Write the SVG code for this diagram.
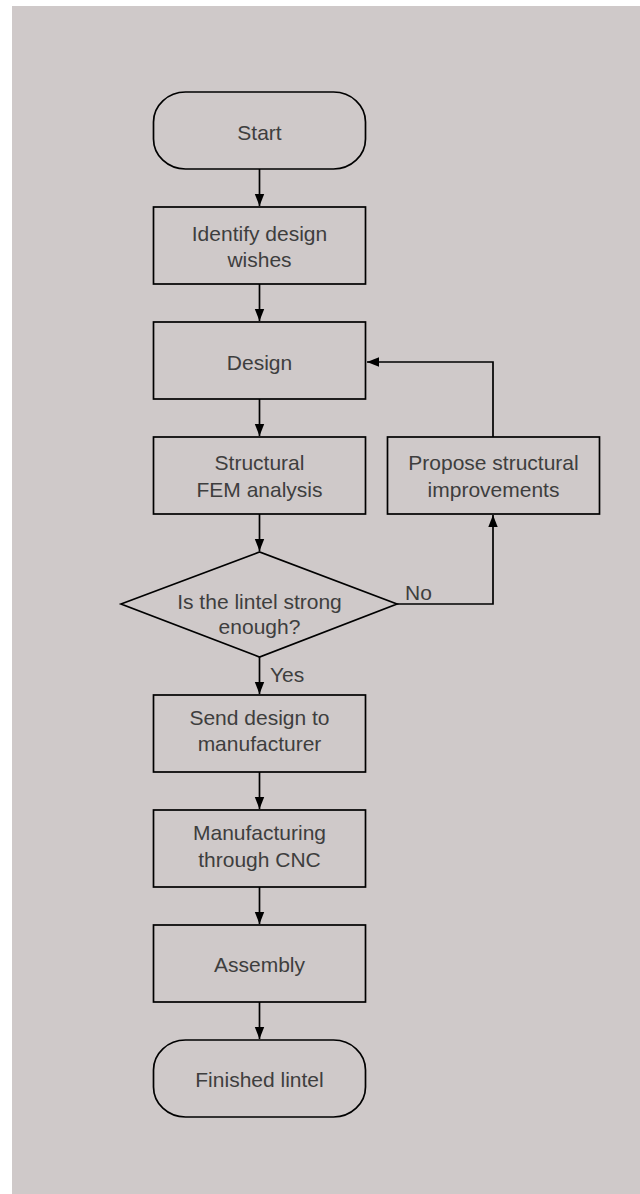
<svg xmlns="http://www.w3.org/2000/svg" width="640" height="1194" viewBox="0 0 640 1194">
  <defs>
    <marker id="arrow" viewBox="0 0 12 12" refX="12" refY="6" markerWidth="12" markerHeight="12" markerUnits="userSpaceOnUse" orient="auto">
      <path d="M0,1.3 L12,6 L0,10.7 Z" fill="#000"/>
    </marker>
    <style>
      .shape { fill: none; stroke: #000; stroke-width: 1.7; }
      .conn { fill: none; stroke: #000; stroke-width: 1.7; marker-end: url(#arrow); }
      .label { font-family: "Liberation Sans", Arial, sans-serif; font-size: 21px; fill: #3e3e3e; text-anchor: middle; }
      .edge { font-family: "Liberation Sans", Arial, sans-serif; font-size: 21px; fill: #3e3e3e; }
    </style>
  </defs>
  <rect x="0" y="0" width="640" height="1194" fill="#ffffff"/>
  <rect x="12" y="6" width="628" height="1188" fill="#cfc9c9"/>

  <g id="connectors">
    <line class="conn" x1="259.5" y1="169" x2="259.5" y2="206"/>
    <line class="conn" x1="259.5" y1="284" x2="259.5" y2="321"/>
    <line class="conn" x1="259.5" y1="399" x2="259.5" y2="436"/>
    <line class="conn" x1="259.5" y1="514" x2="259.5" y2="551"/>
    <line class="conn" x1="259.5" y1="657" x2="259.5" y2="694"/>
    <line class="conn" x1="259.5" y1="772" x2="259.5" y2="809"/>
    <line class="conn" x1="259.5" y1="887" x2="259.5" y2="924"/>
    <line class="conn" x1="259.5" y1="1002" x2="259.5" y2="1039"/>
    <polyline class="conn" points="397,604 493,604 493,515"/>
    <polyline class="conn" points="493,437 493,362 367,362"/>
    <text class="edge" x="405" y="600">No</text>
    <text class="edge" x="270" y="682">Yes</text>
  </g>

  <g id="start">
    <rect class="shape" x="153.5" y="92" width="212" height="77" rx="32" ry="30"/>
    <text class="label" x="259.5" y="139.5">Start</text>
  </g>
  <g id="identify">
    <rect class="shape" x="153.5" y="207" width="212" height="77"/>
    <text class="label" x="259.5" y="241">Identify design</text>
    <text class="label" x="259.5" y="266.5">wishes</text>
  </g>
  <g id="design">
    <rect class="shape" x="153.5" y="322" width="212" height="77"/>
    <text class="label" x="259.5" y="369.5">Design</text>
  </g>
  <g id="structural">
    <rect class="shape" x="153.5" y="437" width="212" height="77"/>
    <text class="label" x="259.5" y="470">Structural</text>
    <text class="label" x="259.5" y="496.5">FEM analysis</text>
  </g>
  <g id="propose">
    <rect class="shape" x="387.5" y="437" width="212" height="77"/>
    <text class="label" x="493.5" y="470">Propose structural</text>
    <text class="label" x="493.5" y="496.5">improvements</text>
  </g>
  <g id="decision">
    <polygon class="shape" points="121,604 259.5,552 397,604 259.5,657"/>
    <text class="label" x="259.5" y="608.5">Is the lintel strong</text>
    <text class="label" x="259.5" y="633.5">enough?</text>
  </g>
  <g id="send">
    <rect class="shape" x="153.5" y="695" width="212" height="77"/>
    <text class="label" x="259.5" y="725">Send design to</text>
    <text class="label" x="259.5" y="751">manufacturer</text>
  </g>
  <g id="manufacturing">
    <rect class="shape" x="153.5" y="810" width="212" height="77"/>
    <text class="label" x="259.5" y="840">Manufacturing</text>
    <text class="label" x="259.5" y="866.5">through CNC</text>
  </g>
  <g id="assembly">
    <rect class="shape" x="153.5" y="925" width="212" height="77"/>
    <text class="label" x="259.5" y="971.5">Assembly</text>
  </g>
  <g id="finished">
    <rect class="shape" x="153.5" y="1040" width="212" height="77" rx="32" ry="30"/>
    <text class="label" x="259.5" y="1087">Finished lintel</text>
  </g>
</svg>
